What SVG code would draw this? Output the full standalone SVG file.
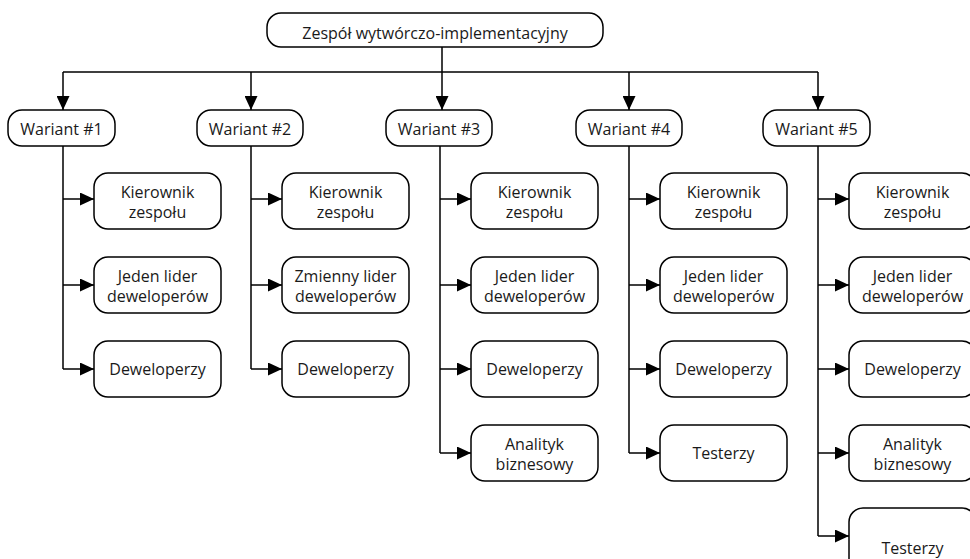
<svg xmlns="http://www.w3.org/2000/svg" width="970" height="559" viewBox="0 0 970 559">
<style>
.box{fill:#fff;stroke:#000;stroke-width:1.5}
text{font-family:"Open Sans","Noto Sans",sans-serif;font-size:16px;fill:#1a1a1a;text-anchor:middle}
.c{fill:none;stroke:#000;stroke-width:1.5}
</style>
<defs>
<marker id="ah" markerUnits="userSpaceOnUse" markerWidth="15" markerHeight="13" refX="14" refY="6.5" orient="auto">
<path d="M0,0 L14,6.5 L0,13 z" fill="#000"/>
</marker>
</defs>
<rect width="970" height="559" fill="#fff"/>
<g id="connectors">
<path class="c" d="M442,47 V72 M63,72 H818"/>
<path class="c" d="M63,72 V110" marker-end="url(#ah)"/>
<path class="c" d="M251,72 V110" marker-end="url(#ah)"/>
<path class="c" d="M442,72 V110" marker-end="url(#ah)"/>
<path class="c" d="M629,72 V110" marker-end="url(#ah)"/>
<path class="c" d="M818,72 V110" marker-end="url(#ah)"/>
<path class="c" d="M63,146 V369 M251,146 V369 M440,146 V453 M629,146 V453 M818,146 V536"/>
<path class="c" d="M63,199 H94" marker-end="url(#ah)"/>
<path class="c" d="M63,285 H94" marker-end="url(#ah)"/>
<path class="c" d="M63,369 H94" marker-end="url(#ah)"/>
<path class="c" d="M251,199 H282" marker-end="url(#ah)"/>
<path class="c" d="M251,285 H282" marker-end="url(#ah)"/>
<path class="c" d="M251,369 H282" marker-end="url(#ah)"/>
<path class="c" d="M440,199 H471" marker-end="url(#ah)"/>
<path class="c" d="M440,285 H471" marker-end="url(#ah)"/>
<path class="c" d="M440,369 H471" marker-end="url(#ah)"/>
<path class="c" d="M440,453 H471" marker-end="url(#ah)"/>
<path class="c" d="M629,199 H660" marker-end="url(#ah)"/>
<path class="c" d="M629,285 H660" marker-end="url(#ah)"/>
<path class="c" d="M629,369 H660" marker-end="url(#ah)"/>
<path class="c" d="M629,453 H660" marker-end="url(#ah)"/>
<path class="c" d="M818,199 H849" marker-end="url(#ah)"/>
<path class="c" d="M818,285 H849" marker-end="url(#ah)"/>
<path class="c" d="M818,369 H849" marker-end="url(#ah)"/>
<path class="c" d="M818,453 H849" marker-end="url(#ah)"/>
<path class="c" d="M818,536 H849" marker-end="url(#ah)"/>
</g>
<g id="root"><rect class="box" x="267" y="13" width="336" height="34" rx="14"/><text x="435" y="39">Zespół wytwórczo-implementacyjny</text></g>
<g id="w1"><rect class="box" x="8" y="110" width="107" height="36" rx="14"/><text x="61.5" y="135">Wariant #1</text></g>
<g id="w2"><rect class="box" x="197" y="110" width="106" height="36" rx="14"/><text x="250" y="135">Wariant #2</text></g>
<g id="w3"><rect class="box" x="386" y="110" width="106" height="36" rx="14"/><text x="439" y="135">Wariant #3</text></g>
<g id="w4"><rect class="box" x="576" y="110" width="106" height="36" rx="14"/><text x="629" y="135">Wariant #4</text></g>
<g id="w5"><rect class="box" x="763" y="110" width="107" height="36" rx="14"/><text x="816.5" y="135">Wariant #5</text></g>

<g id="w1-kier"><rect class="box" x="94" y="173" width="127" height="56" rx="14"/><text x="157.5" y="198">Kierownik</text><text x="157.5" y="218">zespołu</text></g>
<g id="w1-lider"><rect class="box" x="94" y="257" width="127" height="56" rx="14"/><text x="157.5" y="282">Jeden lider</text><text x="157.5" y="302">deweloperów</text></g>
<g id="w1-dev"><rect class="box" x="94" y="341" width="127" height="56" rx="14"/><text x="157.5" y="375">Deweloperzy</text></g>

<g id="w2-kier"><rect class="box" x="282" y="173" width="127" height="56" rx="14"/><text x="345.5" y="198">Kierownik</text><text x="345.5" y="218">zespołu</text></g>
<g id="w2-lider"><rect class="box" x="282" y="257" width="127" height="56" rx="14"/><text x="345.5" y="282">Zmienny lider</text><text x="345.5" y="302">deweloperów</text></g>
<g id="w2-dev"><rect class="box" x="282" y="341" width="127" height="56" rx="14"/><text x="345.5" y="375">Deweloperzy</text></g>

<g id="w3-kier"><rect class="box" x="471" y="173" width="127" height="56" rx="14"/><text x="534.5" y="198">Kierownik</text><text x="534.5" y="218">zespołu</text></g>
<g id="w3-lider"><rect class="box" x="471" y="257" width="127" height="56" rx="14"/><text x="534.5" y="282">Jeden lider</text><text x="534.5" y="302">deweloperów</text></g>
<g id="w3-dev"><rect class="box" x="471" y="341" width="127" height="56" rx="14"/><text x="534.5" y="375">Deweloperzy</text></g>
<g id="w3-anal"><rect class="box" x="471" y="425" width="127" height="56" rx="14"/><text x="534.5" y="450">Analityk</text><text x="534.5" y="470">biznesowy</text></g>

<g id="w4-kier"><rect class="box" x="660" y="173" width="127" height="56" rx="14"/><text x="723.5" y="198">Kierownik</text><text x="723.5" y="218">zespołu</text></g>
<g id="w4-lider"><rect class="box" x="660" y="257" width="127" height="56" rx="14"/><text x="723.5" y="282">Jeden lider</text><text x="723.5" y="302">deweloperów</text></g>
<g id="w4-dev"><rect class="box" x="660" y="341" width="127" height="56" rx="14"/><text x="723.5" y="375">Deweloperzy</text></g>
<g id="w4-test"><rect class="box" x="660" y="425" width="127" height="56" rx="14"/><text x="723.5" y="459">Testerzy</text></g>

<g id="w5-kier"><rect class="box" x="849" y="173" width="127" height="56" rx="14"/><text x="912.5" y="198">Kierownik</text><text x="912.5" y="218">zespołu</text></g>
<g id="w5-lider"><rect class="box" x="849" y="257" width="127" height="56" rx="14"/><text x="912.5" y="282">Jeden lider</text><text x="912.5" y="302">deweloperów</text></g>
<g id="w5-dev"><rect class="box" x="849" y="341" width="127" height="56" rx="14"/><text x="912.5" y="375">Deweloperzy</text></g>
<g id="w5-anal"><rect class="box" x="849" y="425" width="127" height="56" rx="14"/><text x="912.5" y="450">Analityk</text><text x="912.5" y="470">biznesowy</text></g>
<g id="w5-test"><rect class="box" x="849" y="508" width="127" height="70" rx="14"/><text x="912.5" y="554">Testerzy</text></g>
</svg>
